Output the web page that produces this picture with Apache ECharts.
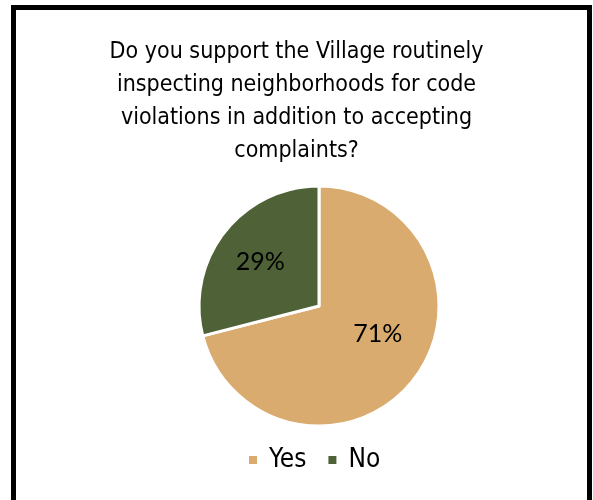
<!DOCTYPE html>
<html>
<head>
<meta charset="utf-8">
<script src="https://cdn.jsdelivr.net/npm/echarts@6/dist/echarts.min.js"></script>
<style>
  html, body { margin: 0; padding: 0; background: #fff; }
  #chart { width: 593px; height: 500px; }
</style>
</head>
<body>
<div id="chart"></div>
<script>
// Survey answers
const categories = ['Yes', 'No'];
const shares = [71, 29];
const colors = ['#DAAB6E', '#4F6237'];
const titleText = 'Do you support the Village routinely\ninspecting neighborhoods for code\nviolations in addition to accepting\ncomplaints?';

const narrow = '"Liberation Sans Narrow", "DejaVu Sans Condensed", sans-serif';
const cx = 319, cy = 306;
// nudges so the inside labels sit where the original put them
const labelNudge = [[9, -11], [-9, -5]];

let chart = echarts.init(document.getElementById('chart'));

const option = {
    backgroundColor: '#fff',
    animation: false,
    title: {
        text: titleText,
        left: 'center',
        top: 31,
        textStyle: {
            fontFamily: narrow,
            fontSize: 23,
            fontWeight: 'normal',
            color: '#000',
            lineHeight: 33
        }
    },
    legend: {
        data: categories,
        bottom: 22,
        left: 242,
        icon: 'rect',
        itemWidth: 10,
        itemHeight: 10,
        itemGap: 20,
        textStyle: {
            fontFamily: narrow,
            fontSize: 26,
            color: '#000',
            padding: [0, 0, 0, 6]
        }
    },
    // chart area frame
    graphic: [{
        type: 'rect',
        shape: { x: 13.5, y: 7.5, width: 576, height: 500 },
        style: { fill: 'none', stroke: '#000', lineWidth: 5 }
    }],
    series: [{
        type: 'pie',
        center: [cx, cy],
        radius: [0, 120],
        startAngle: 90,
        clockwise: true,
        itemStyle: { borderColor: '#fff', borderWidth: 3 },
        label: {
            position: 'inside',
            formatter: '{c}%',
            fontFamily: 'Lato, "Open Sans", sans-serif',
            fontSize: 25,
            color: '#000'
        },
        labelLine: { show: false },
        labelLayout: function (params) {
            const n = labelNudge[params.dataIndex];
            return { dx: n[0], dy: n[1] };
        },
        data: categories.map((name, i) => ({
            name: name,
            value: shares[i],
            itemStyle: { color: colors[i] }
        }))
    }]
};

chart.setOption(option);
</script>
</body>
</html>
